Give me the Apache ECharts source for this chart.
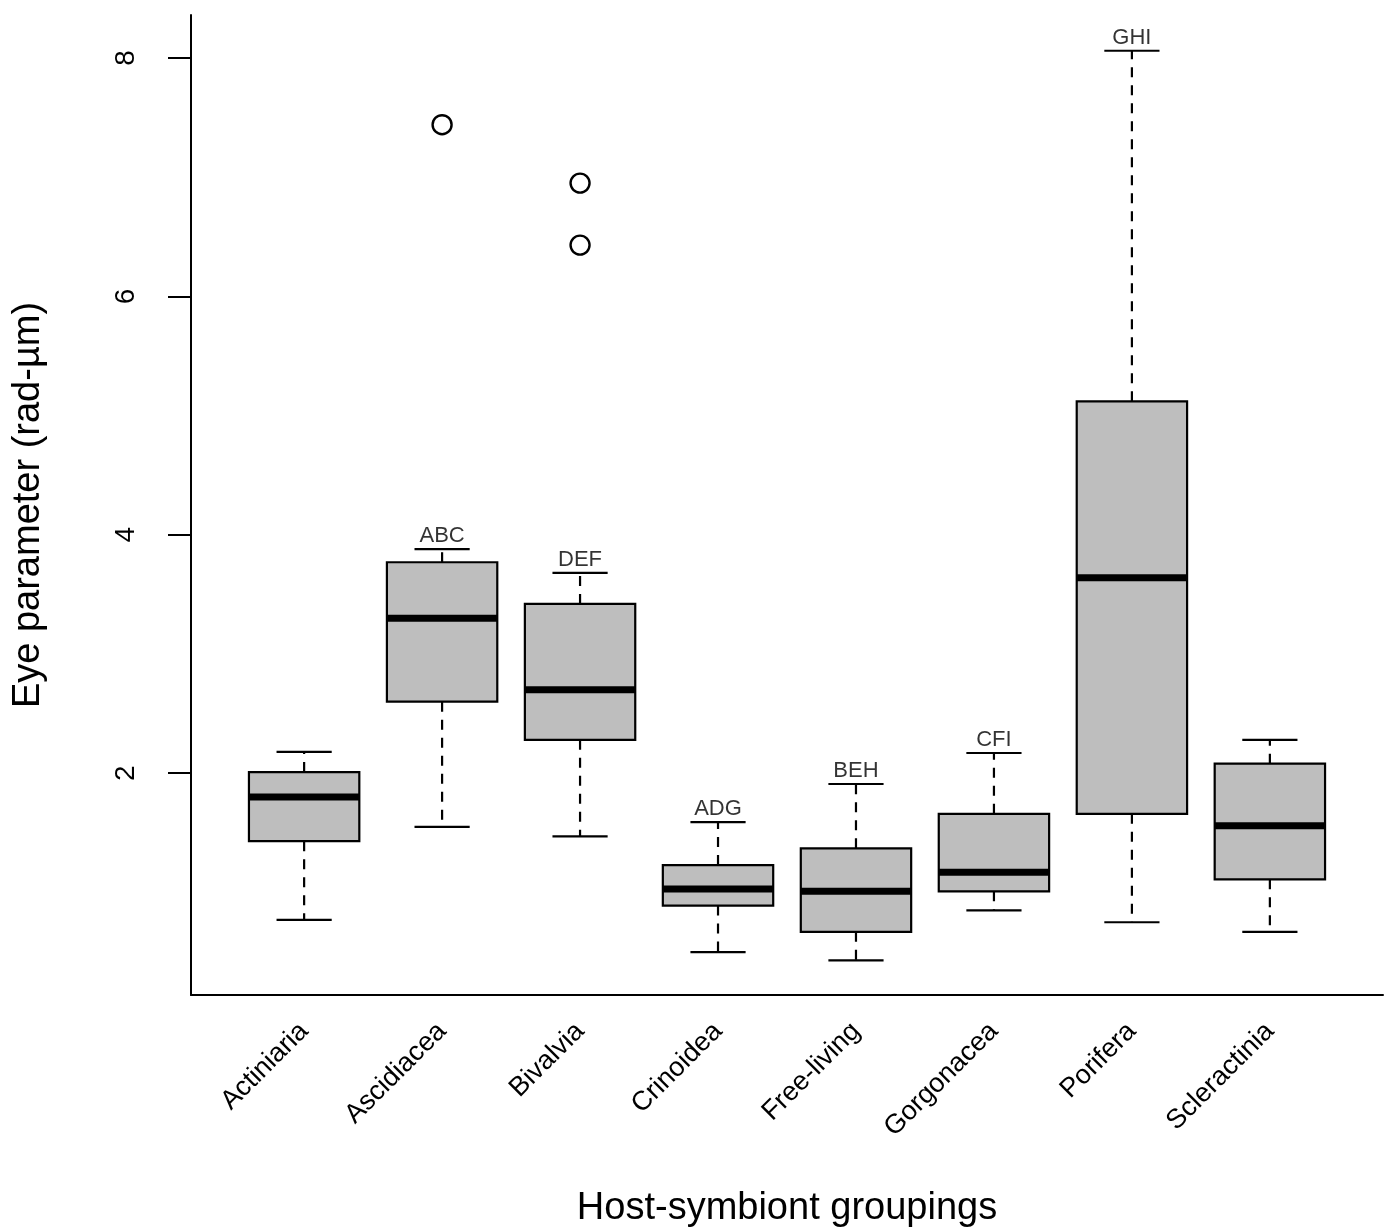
<!DOCTYPE html>
<html>
<head>
<meta charset="utf-8">
<script src="https://cdn.jsdelivr.net/npm/echarts@6/dist/echarts.min.js"></script>
<style>
  html, body { margin: 0; padding: 0; background: #fff; }
  #chart { width: 1384px; height: 1228px; }
</style>
</head>
<body>
<div id="chart"></div>
<script>
// groups along the x axis
const groups = ['Actiniaria', 'Ascidiacea', 'Bivalvia', 'Crinoidea', 'Free-living', 'Gorgonacea', 'Porifera', 'Scleractinia'];
// five-number summaries: lower whisker, Q1, median, Q3, upper whisker
const lowWhisker  = [0.77, 1.55, 1.47, 0.50, 0.43, 0.85, 0.75, 0.67];
const q1          = [1.43, 2.60, 2.28, 0.89, 0.67, 1.01, 1.66, 1.11];
const medians     = [1.80, 3.30, 2.70, 1.03, 1.01, 1.17, 3.64, 1.56];
const q3          = [2.01, 3.77, 3.42, 1.23, 1.37, 1.66, 5.12, 2.08];
const highWhisker = [2.18, 3.88, 3.68, 1.59, 1.91, 2.17, 8.06, 2.28];
// outliers: [group index (1-based), value]
const outliers = [[2, 7.44], [3, 6.95], [3, 6.43]];
// significance letters above the upper whiskers
const letters = ['', 'ABC', 'DEF', 'ADG', 'BEH', 'CFI', 'GHI', ''];
const yTicks = [2, 4, 6, 8];

const FONT = '"Liberation Sans", Arial, sans-serif';

const boxData = groups.map((g, i) => [i + 1, lowWhisker[i], q1[i], medians[i], q3[i], highWhisker[i]]);
const letterData = letters
  .map((t, i) => ({ value: [i + 1, highWhisker[i]], text: t }))
  .filter(d => d.text);

function renderBox(params, api){
  const x = api.value(0);
  const pLow = api.coord([x, api.value(1)]);
  const pQ1 = api.coord([x, api.value(2)]);
  const pMed = api.coord([x, api.value(3)]);
  const pQ3 = api.coord([x, api.value(4)]);
  const pHigh = api.coord([x, api.value(5)]);
  const unit = api.size([1, 0])[0];
  const halfBox = unit * 0.4;
  const halfCap = unit * 0.2;
  const cx = pMed[0];
  const dashStyle = { stroke: '#000', lineWidth: 2.2, lineDash: [10, 8] };
  const solid = { stroke: '#000', lineWidth: 2.2 };
  return {
    type: 'group',
    children: [
      { type: 'line', shape: { x1: cx, y1: pQ3[1], x2: cx, y2: pHigh[1] }, style: dashStyle },
      { type: 'line', shape: { x1: cx, y1: pQ1[1], x2: cx, y2: pLow[1] }, style: dashStyle },
      { type: 'line', shape: { x1: cx - halfCap, y1: pHigh[1], x2: cx + halfCap, y2: pHigh[1] }, style: solid },
      { type: 'line', shape: { x1: cx - halfCap, y1: pLow[1], x2: cx + halfCap, y2: pLow[1] }, style: solid },
      { type: 'rect', shape: { x: cx - halfBox, y: pQ3[1], width: halfBox * 2, height: pQ1[1] - pQ3[1] },
        style: { fill: '#bebebe', stroke: '#000', lineWidth: 2.2 } },
      { type: 'line', shape: { x1: cx - halfBox, y1: pMed[1], x2: cx + halfBox, y2: pMed[1] },
        style: { stroke: '#000', lineWidth: 7 } }
    ]
  };
}

const chart = echarts.init(document.getElementById('chart'), null, { renderer: 'canvas' });
chart.setOption({
  backgroundColor: '#fff',
  animation: false,
  textStyle: { fontFamily: FONT, color: '#000' },
  grid: { left: 191, right: 1, top: 15, bottom: 233, containLabel: false, outerBoundsMode: 'none' },
  xAxis: {
    type: 'value',
    min: 0.18,
    max: 8.82,
    name: 'Host-symbiont groupings',
    nameLocation: 'middle',
    nameGap: 195,
    nameTextStyle: { fontSize: 38, color: '#000', fontFamily: FONT },
    axisLine: { show: true, onZero: false, lineStyle: { color: '#000', width: 2 } },
    axisTick: { show: false },
    splitLine: { show: false },
    axisLabel: {
      customValues: [1, 2, 3, 4, 5, 6, 7, 8],
      formatter: v => groups[Math.round(v) - 1] || '',
      rotate: 45,
      margin: 32,
      fontSize: 27,
      color: '#000',
      fontFamily: FONT
    }
  },
  yAxis: {
    type: 'value',
    min: 0.14,
    max: 8.36,
    name: 'Eye parameter (rad-µm)',
    nameLocation: 'middle',
    nameGap: 143,
    nameTextStyle: { fontSize: 38, color: '#000', fontFamily: FONT },
    axisLine: { show: true, onZero: false, lineStyle: { color: '#000', width: 2 } },
    axisTick: { show: true, customValues: yTicks, length: 23, inside: false, lineStyle: { color: '#000', width: 2 } },
    splitLine: { show: false },
    axisLabel: {
      customValues: yTicks,
      rotate: 90,
      margin: 51,
      fontSize: 28,
      color: '#000',
      fontFamily: FONT
    }
  },
  series: [
    {
      type: 'custom',
      renderItem: renderBox,
      data: boxData,
      encode: { x: 0, y: [1, 2, 3, 4, 5] },
      clip: false,
      z: 2
    },
    {
      type: 'scatter',
      data: outliers,
      symbol: 'circle',
      symbolSize: 19,
      itemStyle: { color: 'rgba(0,0,0,0)', borderColor: '#000', borderWidth: 2.4, opacity: 1 },
      z: 3
    },
    {
      type: 'scatter',
      data: letterData,
      symbolSize: 0,
      label: {
        show: true,
        position: 'top',
        distance: 2,
        formatter: p => p.data.text,
        fontSize: 22,
        color: '#000',
        fontFamily: FONT
      },
      z: 4
    }
  ]
});
</script>
</body>
</html>
